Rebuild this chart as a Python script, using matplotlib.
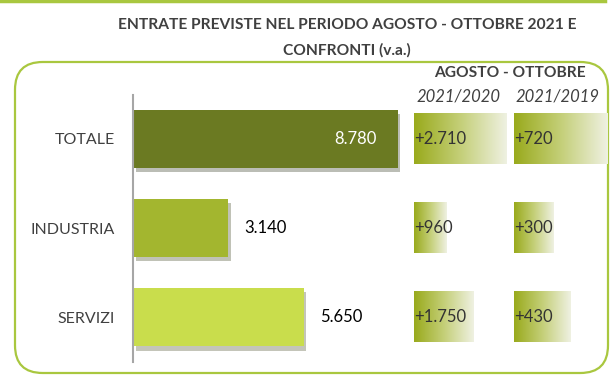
import numpy as np
import matplotlib.pyplot as plt
import matplotlib.patheffects as pe
from matplotlib.patches import FancyBboxPatch
from matplotlib.lines import Line2D

plt.rcParams['font.family'] = ['Lato', 'DejaVu Sans']

categorie = ['TOTALE', 'INDUSTRIA', 'SERVIZI']
entrate = [8780, 3140, 5650]
etichette = ['8.780', '3.140', '5.650']
var_2020 = [2710, 960, 1750]
var_2019 = [720, 300, 430]
lab_2020 = ['+2.710', '+960', '+1.750']
lab_2019 = ['+720', '+300', '+430']
colori = ['#6b7a22', '#a3b62f', '#c9dd4c']

W, H = 616, 384
fig = plt.figure(figsize=(W / 100, H / 100), dpi=100)
verde = '#a9c73f'
grigio = '#404040'


def box(x0, x1, y0, y1):
    # pixel -> frazioni di figura
    return [x0 / W, 1 - y1 / H, (x1 - x0) / W, (y1 - y0) / H]


# cornice
fig.add_artist(Line2D([0, 605 / W], [1 - 1 / H, 1 - 1 / H], color=verde, lw=2.5))
fig.add_artist(FancyBboxPatch((15 / W, 1 - 373 / H), 593 / W, 311 / H,
                              boxstyle='round,pad=0,rounding_size=0.045',
                              transform=fig.transFigure, fc='white', ec=verde, lw=1.6,
                              mutation_aspect=W / H, zorder=-1))

fig.text(347 / W, 1 - 25 / H, 'ENTRATE PREVISTE NEL PERIODO AGOSTO - OTTOBRE 2021 E',
         ha='center', va='center', fontsize=11.2, fontweight='bold', color=grigio)
fig.text(347 / W, 1 - 50 / H, 'CONFRONTI (v.a.)',
         ha='center', va='center', fontsize=11.2, fontweight='bold', color=grigio)
fig.text(510 / W, 1 - 73 / H, 'AGOSTO - OTTOBRE',
         ha='center', va='center', fontsize=11.2, fontweight='bold', color=grigio)
fig.text(459 / W, 1 - 96 / H, '2021/2020', ha='center', va='center',
         fontsize=12, style='italic', color=grigio)
fig.text(558 / W, 1 - 96 / H, '2021/2019', ha='center', va='center',
         fontsize=12, style='italic', color=grigio)

ylim = (2.5, -0.49)
pos = np.arange(len(categorie))

# barre principali
ax = fig.add_axes(box(133, 400, 95, 362))
bars = ax.barh(pos, entrate, height=0.65, color=colori)
for b in bars:
    b.set_path_effects([pe.SimplePatchShadow(offset=(2, -3), alpha=0.3), pe.Normal()])
ax.set_xlim(0, 267 / 0.0302)
ax.set_ylim(*ylim)
for s in ['top', 'right', 'bottom']:
    ax.spines[s].set_visible(False)
ax.spines['left'].set_color('#a6a6a6')
ax.spines['left'].set_linewidth(1.5)
ax.set_xticks([])
ax.set_yticks(pos)
ax.set_yticklabels(categorie, fontsize=11.5, color=grigio)
ax.tick_params(axis='y', length=0, pad=13)
ax.patch.set_alpha(0)
for i, (v, t) in enumerate(zip(entrate, etichette)):
    if i == 0:
        ax.text(v - 700, i, t, ha='right', va='center', fontsize=12, color='white')
    else:
        ax.text(v + 550, i, t, ha='left', va='center', fontsize=12, color='black')

# riquadri con le variazioni
grad = np.linspace(0, 1, 256).reshape(1, -1)
cmap = plt.matplotlib.colors.LinearSegmentedColormap.from_list(
    'g', ['#99aa1c', '#c4cf78', '#eff1e2'])


def variazioni(x0, scala, valori, etichette):
    a = fig.add_axes(box(x0, x0 + 100, 95, 362))
    a.set_xlim(0, 100 / scala)
    a.set_ylim(*ylim)
    a.axis('off')
    for i, (v, t) in enumerate(zip(valori, etichette)):
        a.imshow(grad, cmap=cmap, extent=[0, v, i + 0.28, i - 0.28],
                 aspect='auto', interpolation='bilinear')
        a.text(0, i, t, ha='left', va='center', fontsize=12, color='#333333')
    a.set_xlim(0, 100 / scala)
    a.set_ylim(*ylim)


variazioni(414, 0.034, var_2020, lab_2020)
variazioni(514, 0.1305, var_2019, lab_2019)

fig.savefig('out.png', dpi=100)
